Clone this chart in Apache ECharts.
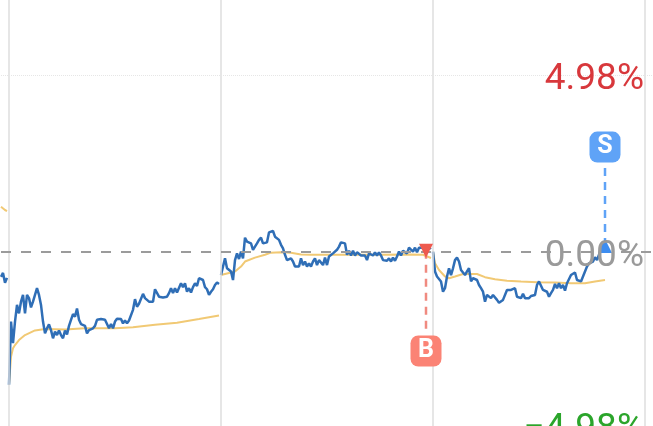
<!DOCTYPE html>
<html>
<head>
<meta charset="utf-8">
<style>
html, body { margin: 0; padding: 0; background: #fff; }
#chart { width: 653px; height: 426px; }
</style>
<script src="https://cdn.jsdelivr.net/npm/echarts@6/dist/echarts.min.js"></script>
</head>
<body>
<div id="chart"></div>
<script>
// x axis is in samples, one session is 106 samples long
const sessionStarts = [4, 110, 216, 322]
const limitTicks = [-4.87, 0, 4.98]
const limitLabels = ['\u22124.98%', '0.00%', '4.98%']
const limitColors = ['#2ba52b', '#9a9a9a', '#d8383c']

const price0 = [-0.70, -0.59, -0.87, -0.73]
const price1 = [-3.74, -1.96, -2.57, -1.96, -1.49, -1.73, -1.40, -1.21, -1.73, -1.21, -1.30, -1.56, -1.40, -1.21, -1.02, -1.21, -1.49, -1.96, -2.29, -2.15, -2.04, -2.20, -2.43, -2.24, -2.34, -2.21, -2.34, -2.43, -2.21, -2.32, -2.08, -1.91, -1.75, -1.82, -1.59, -1.91, -2.03, -2.03, -2.08, -2.29, -2.20, -2.15, -2.15, -2.08, -1.91, -1.89, -1.89, -1.89, -1.91, -2.03, -2.15, -2.03, -2.15, -1.96, -1.88, -1.88, -1.89, -2.01, -1.93, -2.01, -1.93, -1.89, -1.63, -1.33, -1.54, -1.46, -1.43, -1.18, -1.30, -1.30, -1.40, -1.44, -1.40, -1.05, -1.02, -1.26, -1.21, -1.28, -1.26, -1.26, -1.16, -1.02, -1.16, -1.02, -1.14, -1.12, -0.88, -0.99, -0.88, -1.12, -1.02, -1.14, -0.99, -0.88, -0.96, -0.74, -0.74, -0.79, -0.99, -1.05, -1.21, -1.12, -1.05, -0.93, -0.86, -0.90]
const price2 = [-0.65, -0.64, -0.18, -0.46, -0.41, -0.55, -0.79, -0.23, -0.04, -0.20, 0.01, -0.18, 0.40, 0.29, 0.24, 0.24, 0.06, 0.15, 0.24, 0.34, 0.40, 0.24, 0.20, 0.27, 0.55, 0.50, 0.59, 0.43, 0.38, 0.34, 0.20, 0.10, -0.08, -0.23, -0.27, -0.18, -0.27, -0.41, -0.43, -0.41, -0.18, -0.37, -0.27, -0.41, -0.32, -0.41, -0.27, -0.18, -0.37, -0.23, -0.18, -0.37, -0.16, -0.37, -0.13, -0.16, -0.04, -0.08, 0.06, 0.15, 0.27, 0.31, 0.24, -0.08, 0.03, -0.10, 0.03, -0.10, -0.01, -0.01, -0.10, -0.13, -0.10, -0.23, -0.04, 0.01, -0.10, -0.01, -0.10, -0.01, -0.10, -0.23, -0.27, -0.25, -0.18, -0.27, -0.16, -0.25, -0.13, 0.01, -0.10, 0.03, 0.01, -0.04, 0.12, 0.15, 0.01, 0.12, -0.01, 0.12, 0.12, 0.12, 0.10, 0.06, 0.10, 0.12]
const price3 = [0.01, -0.55, -0.69, -0.74, -0.83, -1.12, -1.02, -0.69, -0.46, -0.65, -0.46, -0.23, -0.16, -0.27, -0.51, -0.46, -0.65, -0.55, -0.46, -0.83, -0.74, -0.74, -0.79, -0.93, -1.02, -1.12, -1.40, -1.21, -1.18, -1.30, -1.21, -1.21, -1.35, -1.43, -1.40, -1.35, -1.30, -1.07, -1.02, -1.07, -1.02, -1.02, -1.26, -1.21, -1.30, -1.18, -1.30, -1.30, -1.30, -1.24, -1.26, -1.21, -0.93, -0.83, -0.78, -1.07, -1.02, -1.12, -1.26, -1.16, -1.07, -0.90, -1.02, -0.88, -1.02, -0.93, -1.09, -0.88, -0.93, -0.65, -0.60, -0.58, -0.79, -0.74, -0.83, -0.69, -0.55, -0.41, -0.32, -0.27, -0.27, -0.15, -0.23, -0.08, 0.06, 0.20, 0.24]

const avgSlots0 = [0, 1, 2, 3]
const avg0 = [1.27, 1.22, 1.18, 1.15]
const avgSlots1 = [0, 1, 2, 3, 5, 8, 13, 18, 28, 38, 53, 62, 73, 84, 95, 105]
const avg1 = [-3.74, -2.95, -2.71, -2.62, -2.48, -2.34, -2.21, -2.17, -2.18, -2.15, -2.15, -2.12, -2.05, -1.99, -1.89, -1.79]
const avgSlots2 = [0, 7, 10, 12, 17, 22, 25, 30, 35, 40, 45, 52, 61, 70, 78, 95, 101, 105]
const avg2 = [-0.65, -0.55, -0.41, -0.27, -0.16, -0.08, -0.02, -0.01, -0.02, -0.07, -0.08, -0.08, -0.08, -0.08, -0.08, -0.07, -0.08, -0.17]
const avgSlots3 = [0, 1, 3, 6, 8, 11, 15, 22, 26, 31, 37, 44, 52, 61, 69, 76, 81, 86]
const avg3 = [0.01, -0.32, -0.51, -0.69, -0.74, -0.69, -0.62, -0.62, -0.71, -0.77, -0.81, -0.83, -0.85, -0.86, -0.88, -0.88, -0.83, -0.79]

const buySlot = 212.5
const buyPrice = 0.03
const buyBadge = -2.79
const buyStemEnd = -2.3
const sellSlot = 302
const sellPrice = 0.17
const sellBadge = 2.95
const sellStemEnd = 2.4

function zip(xs, ys, start) {
    return ys.map((y, i) => [start + xs[i], y])
}

function indexed(ys, start) {
    return ys.map((y, i) => [start + i, y])
}

function priceLine(data) {
    return {
        type: 'line', data: data, showSymbol: false, smooth: false, z: 4, silent: true,
        lineStyle: {color: '#2f6eb6', width: 2.5}
    }
}

function avgLine(data) {
    return {
        type: 'line', data: data, showSymbol: false, smooth: false, z: 3, silent: true,
        lineStyle: {color: '#f1c974', width: 2}
    }
}

function stem(slot, from, to, color) {
    return {
        type: 'line', data: [[slot, from], [slot, to]], showSymbol: false, z: 5, silent: true,
        lineStyle: {color: color, width: 2.5, type: [8, 6]}
    }
}

function badge(slot, value, text, color) {
    return {
        type: 'scatter', data: [[slot, value]], symbol: 'roundRect', symbolSize: 31, z: 7, silent: true,
        itemStyle: {color: color, opacity: 1},
        label: {show: true, position: 'inside', formatter: text, color: '#fff', fontSize: 25, fontWeight: 'bold', fontFamily: 'Roboto'}
    }
}

function pointer(slot, value, rotate, color) {
    return {
        type: 'scatter', data: [[slot, value]], symbol: 'triangle', symbolSize: 14, symbolRotate: rotate, z: 6, silent: true,
        itemStyle: {color: color, opacity: 1}
    }
}

const chart = echarts.init(document.getElementById('chart'), null, {renderer: 'canvas'})

chart.setOption({
    animation: false,
    grid: {left: 1, right: 0, top: 0, bottom: -10, containLabel: false, outerBoundsMode: 'none'},
    xAxis: {
        type: 'value', min: 0, max: 326,
        axisLine: {show: false}, axisTick: {show: false}, axisLabel: {show: false}, splitLine: {show: false}
    },
    yAxis: {
        type: 'value', min: -5.18, max: 7.09, position: 'right',
        axisLine: {show: false}, axisTick: {show: false}, splitLine: {show: false},
        axisLabel: {
            show: true, inside: true, margin: 9, fontSize: 37, fontFamily: 'Roboto',
            verticalAlign: 'top', lineHeight: 9,
            customValues: limitTicks,
            showMinLabel: true, showMaxLabel: true, hideOverlap: false,
            formatter: value => limitLabels[limitTicks.indexOf(value)],
            color: value => limitColors[limitTicks.indexOf(Number(value))]
        },
        z: 8
    },
    series: [
        {
            type: 'line', data: [], z: 1, silent: true,
            markLine: {
                silent: true, symbol: 'none', animation: false, label: {show: false},
                data: sessionStarts.map(slot => ({xAxis: slot, lineStyle: {color: '#dedede', width: 1.5, type: 'solid'}}))
                    .concat([
                        {yAxis: limitTicks[2], lineStyle: {color: '#e6e6e6', width: 1, type: 'dotted'}},
                        {yAxis: limitTicks[1], lineStyle: {color: '#9b9b9b', width: 2, type: [10, 10]}}
                    ])
            }
        },
        avgLine(zip(avgSlots0, avg0, 0)),
        avgLine(zip(avgSlots1, avg1, sessionStarts[0])),
        avgLine(zip(avgSlots2, avg2, sessionStarts[1])),
        avgLine(zip(avgSlots3, avg3, sessionStarts[2])),
        priceLine(indexed(price0, 0)),
        priceLine(indexed(price1, sessionStarts[0])),
        priceLine(indexed(price2, sessionStarts[1])),
        priceLine(indexed(price3, sessionStarts[2])),
        stem(buySlot, buyPrice, buyStemEnd, '#f08a80'),
        stem(sellSlot, sellPrice, sellStemEnd, '#5fa3f7'),
        pointer(buySlot, buyPrice, 180, '#ee5a4e'),
        pointer(sellSlot, sellPrice, 0, '#3d8df0'),
        badge(buySlot, buyBadge, 'B', '#fb8375'),
        badge(sellSlot, sellBadge, 'S', '#5fa3f7')
    ]
})
</script>
</body>
</html>
